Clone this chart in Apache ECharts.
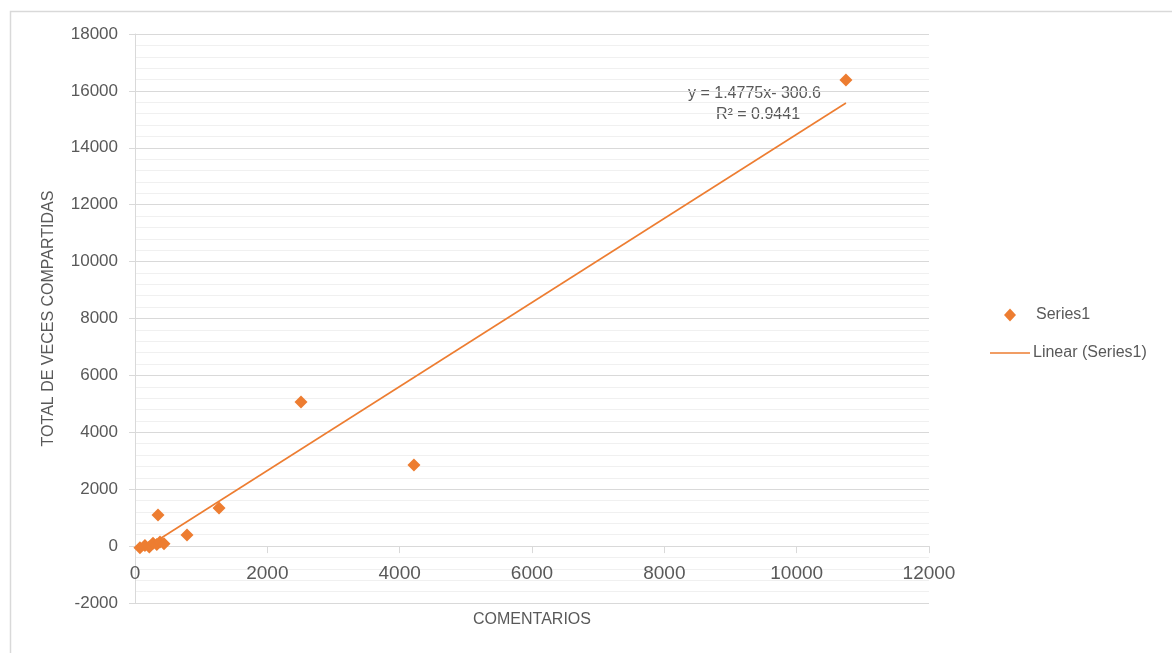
<!DOCTYPE html>
<html>
<head>
<meta charset="utf-8">
<script src="https://cdn.jsdelivr.net/npm/echarts@6/dist/echarts.min.js"></script>
<style>html,body{margin:0;padding:0;background:#fff;}#c{width:1172px;height:653px;}</style>
</head>
<body>
<div id="c"></div>
<script>
const comentarios = [75, 150, 216, 272, 330, 378, 438, 348, 786, 1270, 2509, 4216, 10745];
const compartidas = [-60, 20, -30, 100, 60, 140, 80, 1090, 387, 1336, 5063, 2848, 16385];
const trendSlope = 1.4775;
const trendIntercept = -300.6;
const trendLabel = ['y = 1.4775x- 300.6', 'R² = 0.9441'];
const xTicks = [0, 2000, 4000, 6000, 8000, 10000, 12000];
const yTicks = [-2000, 0, 2000, 4000, 6000, 8000, 10000, 12000, 14000, 16000, 18000];
const xTitle = 'COMENTARIOS';
const yTitle = 'TOTAL DE VECES COMPARTIDAS';
const seriesName = 'Series1';
const trendName = 'Linear (Series1)';

const points = comentarios.map((x, i) => [x, compartidas[i]]);
const xMin = Math.min(...comentarios), xMax = Math.max(...comentarios);
const trend = [[xMin, trendSlope * xMin + trendIntercept], [xMax, trendSlope * xMax + trendIntercept]];

const ORANGE = '#ED7D31', TXT = '#595959', FONT = '"Liberation Sans", Arial, sans-serif';
const chart = echarts.init(document.getElementById('c'));
chart.setOption({
  animation: false,
  backgroundColor: '#fff',
  grid: {left: 135, right: 243, top: 34, bottom: 50, containLabel: false, outerBoundsMode: 'none'},
  xAxis: {
    type: 'value', min: xTicks[0], max: xTicks[xTicks.length - 1], interval: 2000,
    name: xTitle, nameLocation: 'middle', nameGap: 9, nameMoveOverlap: false,
    nameTextStyle: {color: TXT, fontSize: 16, fontFamily: FONT, verticalAlign: 'top'},
    axisLine: {show: true, onZero: true, lineStyle: {color: '#d9d9d9', width: 1}},
    axisTick: {show: true, length: 7, lineStyle: {color: '#d9d9d9'}},
    axisLabel: {color: TXT, fontSize: 19, fontFamily: FONT, margin: -39, formatter: v => String(v)},
    splitLine: {show: false}
  },
  yAxis: {
    type: 'value', min: yTicks[0], max: yTicks[yTicks.length - 1], interval: 2000,
    name: yTitle, nameLocation: 'middle', nameGap: 78,
    nameTextStyle: {color: TXT, fontSize: 16, fontFamily: FONT},
    axisLine: {show: true, onZero: false, lineStyle: {color: '#d9d9d9', width: 1}},
    axisTick: {show: true, length: 6, lineStyle: {color: '#d9d9d9'}},
    axisLabel: {color: TXT, fontSize: 17, fontFamily: FONT, margin: 17, formatter: v => String(v)},
    splitLine: {show: true, lineStyle: {color: '#d9d9d9', width: 1}},
    minorTick: {show: false, splitNumber: 5},
    minorSplitLine: {show: true, lineStyle: {color: '#f0f0f0', width: 1}}
  },
  legend: [{
    orient: 'vertical', left: 999, top: 302, itemWidth: 12, itemHeight: 13,
    data: [{name: seriesName, icon: 'diamond'}],
    textStyle: {color: TXT, fontSize: 16, fontFamily: FONT, padding: [0, 0, 0, 15]}
  }, {
    orient: 'vertical', left: 985, top: 340, itemWidth: 40, itemHeight: 1.5,
    data: [{name: trendName, icon: 'rect'}],
    textStyle: {color: TXT, fontSize: 16, fontFamily: FONT, padding: [0, 0, 0, -2]}
  }],
  series: [{
    name: trendName, type: 'line', data: trend, symbol: 'none', z: 2,
    lineStyle: {color: ORANGE, width: 1.6}, itemStyle: {color: ORANGE}
  }, {
    name: seriesName, type: 'scatter', data: points, symbol: 'diamond',
    symbolSize: [13, 13], symbolKeepAspect: true, z: 3,
    itemStyle: {color: ORANGE, opacity: 1}
  }],
  graphic: [{
    type: 'rect', left: 8, top: 9, shape: {width: 1300, height: 800},
    style: {fill: 'none', stroke: '#d9d9d9', lineWidth: 1.5}, silent: true, z: -1
  }, {
    type: 'text', left: 688, top: 86,
    style: {text: trendLabel[0], fill: TXT, font: '16px ' + FONT}
  }, {
    type: 'text', left: 716, top: 107,
    style: {text: trendLabel[1], fill: TXT, font: '16px ' + FONT}
  }]
});
</script>
</body>
</html>
